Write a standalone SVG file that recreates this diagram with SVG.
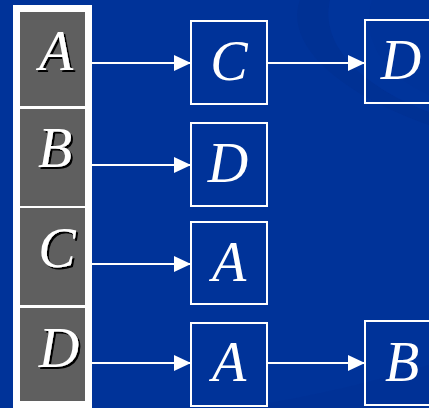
<svg xmlns="http://www.w3.org/2000/svg" width="429" height="408" viewBox="0 0 429 408">
<defs>
<style>
.cell{fill:#5f5f5f;}
.box{fill:none;stroke:#ffffff;stroke-width:2;}
.lt{font-family:"Liberation Serif",serif;font-style:italic;font-size:56px;fill:#ffffff;text-anchor:middle;}
.sl{filter:url(#shadow);}
.conn line{stroke:#ffffff;stroke-width:2;}
</style>
<filter id="shadow" x="-20%" y="-20%" width="140%" height="140%">
<feDropShadow dx="2" dy="2" stdDeviation="0.4" flood-color="#000000" flood-opacity="1"/>
</filter>
<marker id="ah" markerWidth="17" markerHeight="16" refX="17" refY="8" orient="auto" markerUnits="userSpaceOnUse">
<path d="M0,0 L17,8 L0,16 Z" fill="#ffffff"/>
</marker>
</defs>
<rect x="0" y="0" width="429" height="408" fill="#003399"/>
<path d="M300,0 C285,40 330,90 429,125 L429,112 C360,85 320,45 330,0 Z" fill="#003194"/>
<path d="M330,0 C320,45 360,85 429,112 L429,95 C385,75 360,40 372,0 Z" fill="#00349b"/>
<path d="M240,408 C320,395 380,380 429,365 L429,408 Z" fill="#003194" opacity="0.6"/>
<g id="array">
<rect x="13" y="5" width="79" height="403" fill="#ffffff"/>
<rect class="cell" x="20" y="12" width="65" height="94"/>
<rect class="cell" x="20" y="109" width="65" height="97"/>
<rect class="cell" x="20" y="208" width="65" height="97"/>
<rect class="cell" x="20" y="308" width="65" height="93"/>
</g>
<g id="cellA"><text class="lt sl" x="56" y="70">A</text></g>
<g id="cellB"><text class="lt sl" x="55" y="167">B</text></g>
<g id="cellC"><text class="lt sl" x="57" y="267">C</text></g>
<g id="cellD"><text class="lt sl" x="59" y="367">D</text></g>
<g id="n1"><rect class="box" x="191" y="21" width="76" height="83"/><text class="lt" x="229" y="80">C</text></g>
<g id="n2"><rect class="box" x="365" y="20" width="70" height="83"/><text class="lt" x="401" y="79">D</text></g>
<g id="n3"><rect class="box" x="191" y="123" width="76" height="83"/><text class="lt" x="228" y="182">D</text></g>
<g id="n4"><rect class="box" x="191" y="222" width="76" height="82"/><text class="lt" x="229" y="281">A</text></g>
<g id="n5"><rect class="box" x="191" y="323" width="76" height="83"/><text class="lt" x="229" y="381">A</text></g>
<g id="n6"><rect class="box" x="365" y="321" width="70" height="84"/><text class="lt" x="402" y="381">B</text></g>
<g class="conn" id="connectors">
<line x1="92" y1="63" x2="191" y2="63" marker-end="url(#ah)"/>
<line x1="267" y1="63" x2="365" y2="63" marker-end="url(#ah)"/>
<line x1="92" y1="165" x2="191" y2="165" marker-end="url(#ah)"/>
<line x1="92" y1="264" x2="191" y2="264" marker-end="url(#ah)"/>
<line x1="92" y1="363" x2="191" y2="363" marker-end="url(#ah)"/>
<line x1="267" y1="363" x2="365" y2="363" marker-end="url(#ah)"/>
</g>
</svg>
